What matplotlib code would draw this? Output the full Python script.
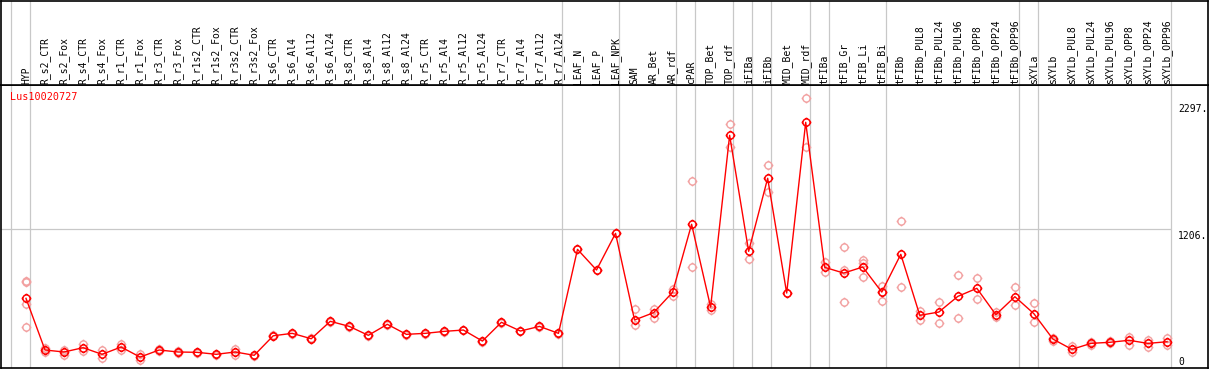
import numpy as np
import matplotlib
matplotlib.use("Agg")
import matplotlib.pyplot as plt
from matplotlib.path import Path
from matplotlib.transforms import blended_transform_factory, offset_copy

# ---------------- data ----------------
gene = "Lus10020727"

categories = [
    "HYP", "R_s2_CTR", "R_s2_Fox", "R_s4_CTR", "R_s4_Fox", "R_r1_CTR", "R_r1_Fox",
    "R_r3_CTR", "R_r3_Fox", "R_r1s2_CTR", "R_r1s2_Fox", "R_r3s2_CTR", "R_r3s2_Fox",
    "R_s6_CTR", "R_s6_Al4", "R_s6_Al12", "R_s6_Al24", "R_s8_CTR", "R_s8_Al4",
    "R_s8_Al12", "R_s8_Al24", "R_r5_CTR", "R_r5_Al4", "R_r5_Al12", "R_r5_Al24",
    "R_r7_CTR", "R_r7_Al4", "R_r7_Al12", "R_r7_Al24", "LEAF_N", "LEAF_P", "LEAF_NPK",
    "SAM", "AR_Bet", "AR_rdf", "cPAR", "TOP_Bet", "TOP_rdf", "iFIBa", "iFIBb",
    "MID_Bet", "MID_rdf", "tFIBa", "tFIB_Gr", "tFIB_Li", "tFIB_Bi", "tFIBb",
    "tFIBb_PUL8", "tFIBb_PUL24", "tFIBb_PUL96", "tFIBb_OPP8", "tFIBb_OPP24",
    "tFIBb_OPP96", "sXYLa", "sXYLb", "sXYLb_PUL8", "sXYLb_PUL24", "sXYLb_PUL96",
    "sXYLb_OPP8", "sXYLb_OPP24", "sXYLb_OPP96",
]

mean_values = [
    577, 109, 91, 130, 70, 136, 45, 109, 91, 88, 70, 91, 61,
    238, 260, 211, 369, 323, 242, 342, 251, 260, 278, 290, 190,
    360, 281, 323, 260, 1021, 834, 1166,
    381, 447, 632, 1248, 498, 2054, 1003, 1665, 625, 2172,
    858, 806, 861, 634, 976, 423, 453, 595, 668, 429, 592,
    438, 208, 115, 169, 179, 197, 169, 184,
]

replicate_values = [
    [734, 725, 524, 315], [124, 93], [109, 66], [166, 102], [106, 36], [163, 109],
    [72, 15], [118, 100], [102, 78], [86, 90], [68, 72], [115, 66], [59, 63],
    [243, 233], [265, 255], [215, 207], [373, 365], [327, 319], [246, 238],
    [347, 337], [255, 247], [264, 256], [282, 274], [294, 286], [194, 186],
    [364, 356], [285, 277], [327, 319], [264, 256], [1021], [834], [1166],
    [480, 333], [480, 399], [661, 601], [1640, 861], [528, 471], [2154, 1948],
    [1076, 931], [1782, 1540], [625], [2389, 1951],
    [906, 815], [1039, 834, 544], [924, 897, 770], [686, 550, 634], [1278, 680],
    [459, 381], [541, 351], [786, 401], [758, 574], [450, 410], [680, 514],
    [532, 365], [220, 190], [145, 88], [184, 154], [193, 169], [229, 151],
    [202, 136], [220, 151],
]

group_sizes = [1, 28, 3, 3, 1, 2, 1, 1, 2, 1, 3, 7, 1, 7]
y_ticks = [0, 1206, 2297]
y_tick_labels = ["0", "1206.", "2297."]

# ---------------- style ----------------
W, H = 1209, 370
DPI = 100
GRID = "#c8c8c8"
RED = "#ff0000"
PALE = "#f2a0a0"
MONO = "DejaVu Sans Mono"

fig = plt.figure(figsize=(W / DPI, H / DPI), dpi=DPI)

# pixel geometry
left_px, right_px = 1, 1208
plot_top_px, plot_bot_px = 85, 368
x0_px, dx_px = 26.0, 19.017


def px_to_idx(px):
    return (px - x0_px) / dx_px


ax = fig.add_axes([left_px / W, (H - plot_bot_px) / H,
                   (right_px - left_px) / W, (plot_bot_px - plot_top_px) / H])
axl = fig.add_axes([left_px / W, (H - plot_top_px) / H,
                    (right_px - left_px) / W, (plot_top_px - 0.6) / H])

xlim = (px_to_idx(left_px), px_to_idx(right_px))
ax.set_xlim(*xlim)
axl.set_xlim(*xlim)
ax.set_ylim(-54, 2510)
axl.set_ylim(0, 1)

for a in (ax, axl):
    a.set_xticks([])
    a.set_yticks([])
    for s in a.spines.values():
        s.set_color("black")
        s.set_linewidth(1.2)

# group separators
ends = np.cumsum(group_sizes) - 1
bounds = [-1 + 0.2] + [e + 0.2 for e in ends]
for b in bounds:
    ax.axvline(b, color=GRID, lw=0.9, zorder=1)
    axl.axvline(b, color=GRID, lw=0.9, zorder=1)

# horizontal gridline
ax.hlines(y_ticks[1], xlim[0], bounds[-1], color=GRID, lw=0.9, zorder=1)

# custom marker: circle with four small ticks
circ = Path.unit_circle()
r2 = 1.35
ticks = [Path([(0, 1), (0, r2)], [Path.MOVETO, Path.LINETO]),
         Path([(0, -1), (0, -r2)], [Path.MOVETO, Path.LINETO]),
         Path([(1, 0), (r2, 0)], [Path.MOVETO, Path.LINETO]),
         Path([(-1, 0), (-r2, 0)], [Path.MOVETO, Path.LINETO])]
marker = Path.make_compound_path(circ, *ticks)

x = np.arange(len(categories))

# replicates
rx, ry = [], []
for i, reps in enumerate(replicate_values):
    for v in reps:
        rx.append(i)
        ry.append(v)
ax.plot(rx, ry, linestyle="none", marker=marker, markersize=7, mfc="none",
        mec=PALE, mew=1.0, zorder=2)

# means
ax.plot(x, mean_values, color=RED, lw=1.0, marker=marker, markersize=7,
        mfc="none", mec=RED, mew=1.1, zorder=3)

# y labels inside the plot at right
tx = px_to_idx(1178)
trans = blended_transform_factory(ax.transData, ax.transData)
for v, lab in zip(y_ticks, y_tick_labels):
    if v == y_ticks[1]:
        t = offset_copy(trans, fig=fig, x=0, y=-2.5, units="dots")
        ax.text(tx, v, lab, transform=t, ha="left", va="top",
                fontsize=7, family=MONO, color="black")
    else:
        ax.text(tx, v, lab, transform=trans, ha="left", va="center",
                fontsize=7, family=MONO, color="black")

# gene name
ax.text((10 - left_px) / (right_px - left_px), 1 - (97 - plot_top_px) / (plot_bot_px - plot_top_px),
        gene, transform=ax.transAxes, ha="left", va="center", fontsize=7.3,
        family=MONO, color=RED)

# category labels
ltrans = offset_copy(blended_transform_factory(axl.transData, axl.transAxes),
                     fig=fig, x=0, y=1.5, units="dots")
for i, c in enumerate(categories):
    axl.text(i, 0, c, transform=ltrans, rotation=90, ha="center", va="bottom",
             fontsize=7, family=MONO, color="black")

fig.savefig("out.png", dpi=DPI)
